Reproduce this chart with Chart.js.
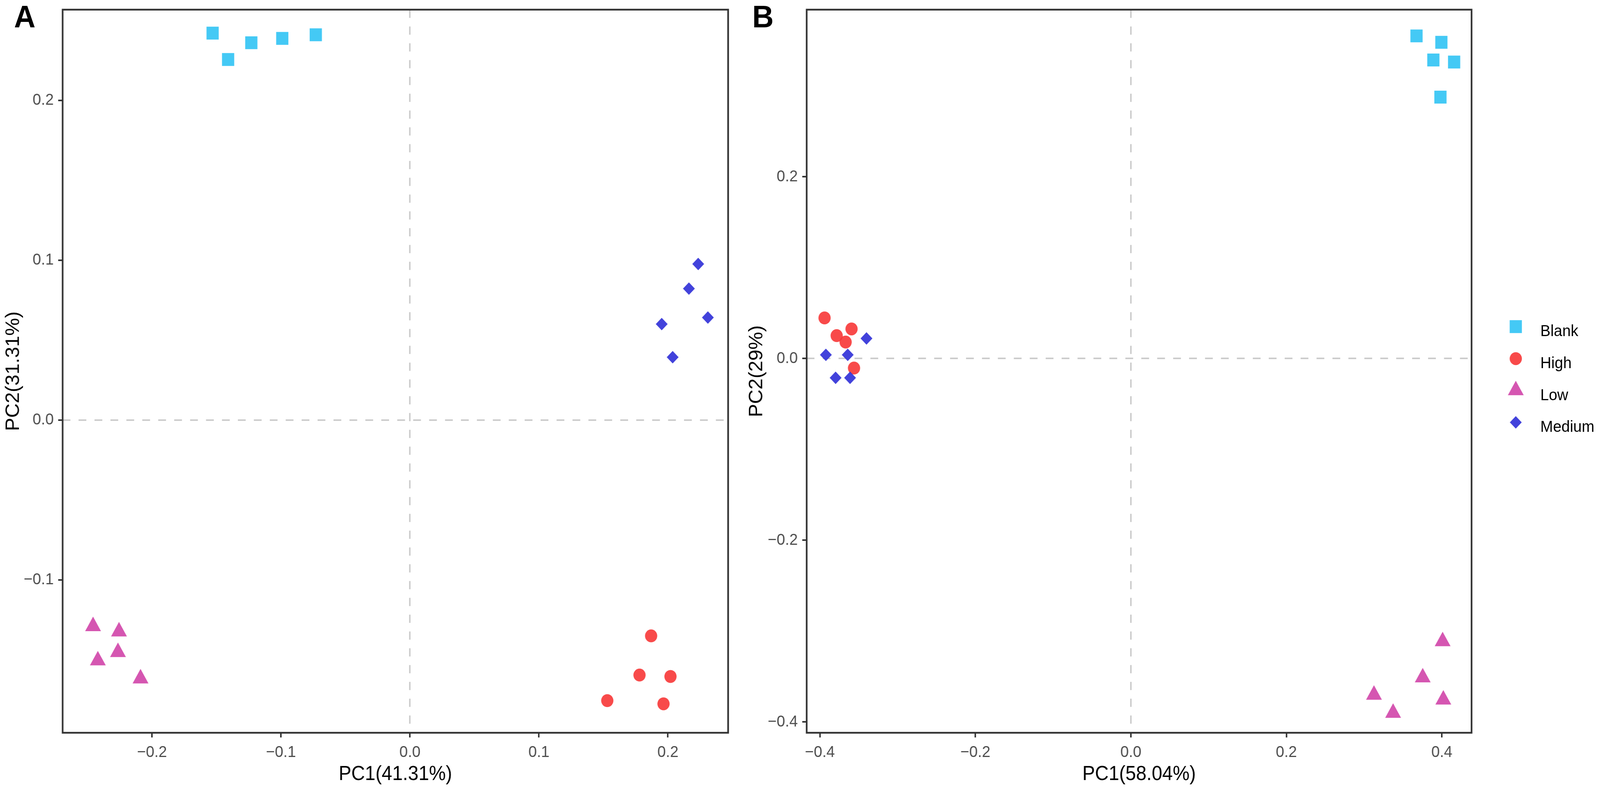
<!DOCTYPE html>
<html>
<head>
<meta charset="utf-8">
<script src="https://cdn.jsdelivr.net/npm/chart.js@4.4.1/dist/chart.umd.min.js"></script>
<style>
  html, body { margin: 0; background: #fff; overflow: hidden; }
  #page { position: absolute; left: 0; top: 0; width: 4318px; height: 2024px; transform-origin: 0 0;
          font-family: "Liberation Sans", Arial, sans-serif; }
  canvas, .txt { position: absolute; }
  .panel-label { font-weight: bold; font-size: 80px; line-height: 80px; color: #000; }
  .leg { font-size: 41px; line-height: 41px; color: #000; white-space: nowrap; }
</style>
</head>
<body>
<div id="page">
  <canvas id="pcaA" width="1990" height="2024" style="left:0;top:0"></canvas>
  <canvas id="pcaB" width="1990" height="2024" style="left:2006px;top:0"></canvas>
  <canvas id="legendKeys" width="110" height="360" style="left:4040px;top:780px"></canvas>
  <div class="txt panel-label" style="left:38px;top:3px">A</div>
  <div class="txt panel-label" style="left:2030px;top:3px">B</div>
  <div id="legendText"></div>
</div>

<script>
// groups, in legend order
const groups = ['Blank', 'High', 'Low', 'Medium'];

// panel A scores [PC1, PC2]
const blankA  = [[-0.153, 0.242], [-0.141, 0.2255], [-0.123, 0.236], [-0.099, 0.2387], [-0.073, 0.241]];
const highA   = [[0.187, -0.135], [0.178, -0.1595], [0.202, -0.1604], [0.153, -0.1755], [0.1966, -0.1775]];
const lowA    = [[-0.2457, -0.129], [-0.2256, -0.1323], [-0.2264, -0.1452], [-0.242, -0.1504], [-0.2089, -0.1617]];
const mediumA = [[0.2235, 0.0976], [0.2163, 0.0822], [0.231, 0.0641], [0.1952, 0.06], [0.2037, 0.0393]];

// panel B scores [PC1, PC2]
const blankB  = [[0.3674, 0.3551], [0.3994, 0.3481], [0.3891, 0.3286], [0.4158, 0.3263], [0.3982, 0.2877]];
const highB   = [[-0.394, 0.0447], [-0.3593, 0.0326], [-0.3784, 0.0252], [-0.3669, 0.0181], [-0.3561, -0.0105]];
const lowB    = [[0.401, -0.3113], [0.3754, -0.3511], [0.3127, -0.3702], [0.3373, -0.3901], [0.4019, -0.3755]];
const mediumB = [[-0.3401, 0.0221], [-0.3923, 0.004], [-0.3642, 0.004], [-0.3798, -0.0212], [-0.3612, -0.0212]];

// ticks and axis ranges
const ticksAx = [-0.2, -0.1, 0, 0.1, 0.2];
const ticksAy = [-0.1, 0, 0.1, 0.2];
const ticksBx = [-0.4, -0.2, 0, 0.2, 0.4];
const ticksBy = [-0.4, -0.2, 0, 0.2];
const rangeAx = [-0.2693, 0.2467];
const rangeAy = [-0.1956, 0.2567];
const rangeBx = [-0.417, 0.4382];
const rangeBy = [-0.4119, 0.384];

// look
const colors = ['rgba(52,196,244,0.92)', 'rgba(247,54,54,0.9)', 'rgba(209,72,170,0.92)', 'rgba(50,50,216,0.92)'];
const shapes = ['rect', 'circle', 'triangle', 'rectRot'];
const radii  = [23.3, 16.5, 24.7, 16];

// the window may be narrower than the 4318px figure: squeeze it horizontally to fit
const fitX = Math.min(1, window.innerWidth / 4318);
document.getElementById('page').style.transform = 'scaleX(' + fitX + ')';

Chart.defaults.font.family = '"Liberation Sans", Arial, sans-serif';

const fmt = v => (v < 0 ? '\u2212' : '') + Math.abs(v).toFixed(1);

// box round the panel
const framePlugin = {
    id: 'frame',
    afterDraw(chart) {
        const {ctx, chartArea: {left, top, right, bottom}} = chart;
        ctx.save();
        ctx.strokeStyle = '#333333';
        ctx.lineWidth = 4.5;
        ctx.strokeRect(left, top, right - left, bottom - top);
        ctx.restore();
    }
};

function axis(tickVals, range, title, isY, boxSize) {
    return {
        type: 'linear',
        position: isY ? 'left' : 'bottom',
        min: range[0],
        max: range[1],
        afterBuildTicks: s => { s.ticks = tickVals.map(v => ({value: v})); },
        afterFit: s => {
            if (isY) s.width = boxSize; else s.height = boxSize;
            s.paddingTop = 0; s.paddingBottom = 0; s.paddingLeft = 0; s.paddingRight = 0;
        },
        grid: {
            drawOnChartArea: true,
            color: c => (c.tick && c.tick.value === 0) ? '#cccccc' : 'rgba(0,0,0,0)',
            lineWidth: 4,
            tickColor: '#333333',
            tickWidth: 4,
            tickLength: 12
        },
        border: { display: false, dash: [21, 22] },
        ticks: {
            autoSkip: false, maxRotation: 0, minRotation: 0,
            padding: isY ? 12 : 14,
            color: '#4d4d4d',
            font: { size: 41 },
            callback: v => fmt(v)
        },
        title: {
            display: true, text: title, color: '#000',
            font: { size: 51 },
            padding: { top: 6, bottom: 11 }
        }
    };
}

function makeSets(series) {
    return series.map((pts, i) => ({
        label: groups[i],
        data: pts.map(p => ({x: p[0], y: p[1]})),
        pointStyle: shapes[i],
        pointRadius: radii[i],
        backgroundColor: colors[i],
        borderWidth: 0,
        order: 4 - i
    }));
}

function drawPanel(id, series, tx, ty, rx, ry, xTitle, yTitle, yWidth, rightPad) {
    new Chart(document.getElementById(id), {
        type: 'scatter',
        data: { datasets: makeSets(series) },
        options: {
            responsive: false,
            animation: false,
            devicePixelRatio: 1,
            events: [],
            layout: { padding: { left: 0, right: rightPad, top: 15, bottom: 0 } },
            plugins: { legend: { display: false }, tooltip: { enabled: false } },
            scales: {
                x: axis(tx, rx, xTitle, false, 149),
                y: axis(ty, ry, yTitle, true, yWidth)
            }
        },
        plugins: [framePlugin]
    });
}

drawPanel('pcaA', [blankA, highA, lowA, mediumA], ticksAx, ticksAy, rangeAx, rangeAy,
          'PC1(41.31%)', 'PC2(31.31%)', 169, 25);
drawPanel('pcaB', [blankB, highB, lowB, mediumB], ticksBx, ticksBy, rangeBx, rangeBy,
          'PC1(58.04%)', 'PC2(29%)', 171, 24);

// shared legend on the right
const keyCtx = document.getElementById('legendKeys').getContext('2d');
const keyY = [55.7, 137.7, 219, 300.7];
const legendText = document.getElementById('legendText');
groups.forEach((g, i) => {
    keyCtx.fillStyle = colors[i];
    Chart.helpers.drawPoint(keyCtx, {pointStyle: shapes[i], radius: radii[i], rotation: 0, borderWidth: 0}, 50.7, keyY[i]);
    const d = document.createElement('div');
    d.className = 'txt leg';
    d.style.left = '4157px';
    d.style.top = (780 + keyY[i] + 10.5 - 20) + 'px';
    d.textContent = g;
    legendText.appendChild(d);
});
</script>
</body>
</html>
